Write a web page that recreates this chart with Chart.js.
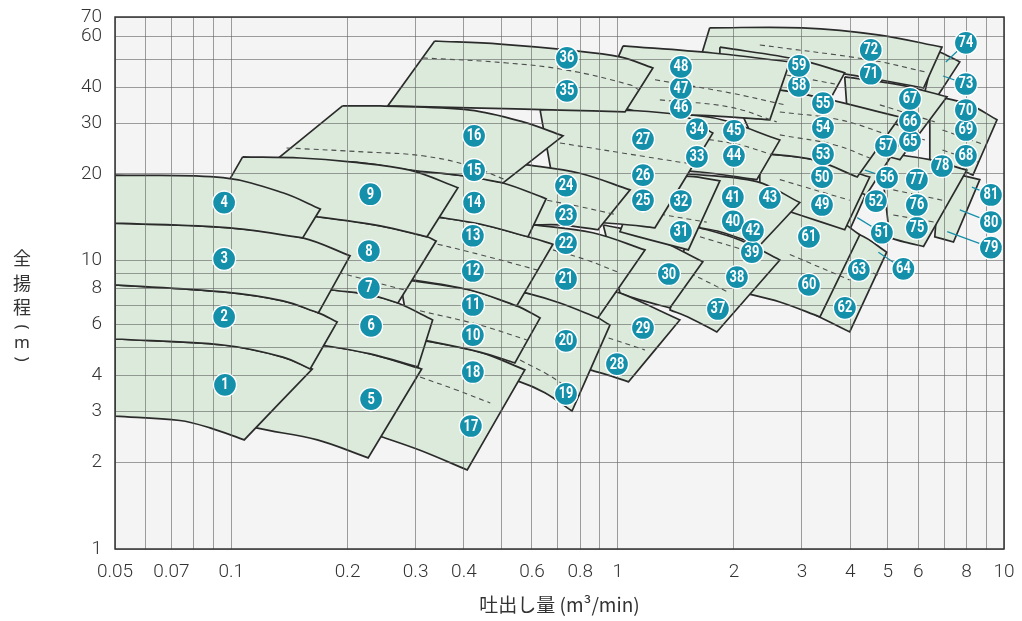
<!DOCTYPE html>
<html><head><meta charset="utf-8">
<script src="https://cdn.jsdelivr.net/npm/chart.js@4"></script>
<style>html,body{margin:0;padding:0;background:#fff}</style>
</head><body>
<canvas id="c" width="1022" height="621" style="width:1022px;height:621px"></canvas>
<script>
// ---- axes ----
const xTickLabels = [0.05,0.07,0.1,0.2,0.3,0.4,0.6,0.8,1,2,3,4,5,6,8,10];
const yTickLabels = [1,2,3,4,6,8,10,20,30,40,60,70];
const xGridValues = [0.05,0.06,0.07,0.08,0.09,0.1,0.2,0.3,0.4,0.5,0.6,0.7,0.8,0.9,1,2,3,4,5,6,7,8,9,10];
const yGridValues = [1,2,3,4,5,6,7,8,9,10,20,30,40,50,60,70];

// ---- pump regions (flow m3/min, head m), top edge L->R then bottom edge R->L ----
const A4 = [[0.05,19.8],[0.0952,19.4],[0.136,17.2],[0.170,15.1],[0.153,12.0],[0.0993,13.0],[0.05,13.5]];
const A3 = [[0.05,13.5],[0.0993,13.0],[0.153,12.0],[0.203,10.4],[0.168,6.59],[0.136,7.25],[0.0952,7.79],[0.05,8.24]];
const A2 = [[0.05,8.24],[0.0952,7.79],[0.136,7.25],[0.168,6.59],[0.188,6.13],[0.160,4.21],[0.136,4.63],[0.0952,5.10],[0.05,5.35]];
const A1 = [[0.05,5.35],[0.0952,5.10],[0.136,4.63],[0.162,4.21],[0.108,2.39],[0.0881,2.63],[0.0736,2.79],[0.05,2.89]];

const B9 = [[0.107,22.9],[0.151,22.7],[0.203,22.0],[0.290,20.6],[0.386,17.9],[0.321,12.1],[0.243,13.2],[0.167,14.2],[0.0908,15.6]];
const B87 = [[0.112,14.8],[0.167,14.2],[0.243,13.2],[0.321,12.1],[0.339,11.7],[0.270,7.13],[0.229,7.61],[0.182,7.91],[0.119,8.57]];
const dashB87 = [[0.170,9.29],[0.191,9.06],[0.268,8.04],[0.2815,7.91]];
const B6 = [[0.126,8.10],[0.182,7.91],[0.229,7.61],[0.270,7.13],[0.332,6.23],[0.304,4.28],[0.229,4.75],[0.177,5.06],[0.126,5.39]];
const B5 = [[0.119,5.31],[0.177,5.06],[0.229,4.75],[0.311,4.21],[0.226,2.07],[0.167,2.39],[0.116,2.63],[0.0993,2.80]];

const C1615 = [[0.194,34.4],[0.243,34.4],[0.415,33.3],[0.569,30.3],[0.722,27.1],[0.505,18.6],[0.398,19.7],[0.290,20.6],[0.203,22.0],[0.126,21.5]];
const dashC16 = [[0.139,24.6],[0.225,23.8],[0.313,23.1],[0.415,21.3],[0.511,19.1]];
const C14 = [[0.290,20.6],[0.398,19.7],[0.505,18.6],[0.653,16.4],[0.586,12.1],[0.440,13.4],[0.327,14.3]];
const C1312 = [[0.327,14.3],[0.440,13.4],[0.586,12.1],[0.680,11.4],[0.548,6.97],[0.415,7.91],[0.295,8.57],[0.273,8.57]];
const dashC13 = [[0.308,11.8],[0.440,10.5],[0.618,9.29]];
const C1110 = [[0.273,8.64],[0.415,7.91],[0.548,6.97],[0.630,6.33],[0.542,4.42],[0.440,4.82],[0.313,5.31],[0.290,5.39]];
const dashC11 = [[0.308,6.70],[0.440,5.98],[0.582,5.31]];
const C1817 = [[0.290,5.39],[0.440,4.82],[0.575,4.18],[0.408,1.88],[0.308,2.20],[0.247,2.44],[0.229,2.51]];
const dashC18 = [[0.308,3.95],[0.383,3.56],[0.468,3.21]];

const D3635 = [[0.336,57.8],[0.496,56.4],[0.739,53.8],[1.014,50.9],[1.234,46.6],[1.045,32.8],[0.709,33.3],[0.415,33.9],[0.254,34.4]];
const dashD36 = [[0.313,50.5],[0.517,48.5],[0.739,45.8],[1.077,40.7],[1.136,39.1]];
const D2423 = [[0.496,22.0],[0.582,21.5],[0.798,20.1],[1.077,17.6],[0.889,12.8],[0.709,13.3],[0.604,13.3],[0.496,13.3]];
const dashD24 = [[0.657,16.2],[0.798,15.4],[0.977,14.5]];
const D2221 = [[0.496,13.6],[0.604,13.3],[0.862,12.5],[1.177,10.9],[0.889,6.33],[0.709,7.13],[0.582,7.72],[0.496,8.04]];
const dashD22 = [[0.680,10.9],[0.832,10.05],[1.014,9.06]];
const D2019 = [[0.496,7.91],[0.582,7.72],[0.739,7.31],[0.955,5.98],[0.762,3.01],[0.648,3.48],[0.559,3.80],[0.468,4.01]];
const dashD20 = [[0.559,4.52],[0.657,4.04],[0.739,3.65]];

const E1 = [[0.630,33.3],[0.709,33.6],[1.449,32.0],[1.763,27.7],[1.249,13.0],[1.014,13.4],[0.709,13.8]];
const dashE1 = [[0.709,25.6],[1.191,22.9],[1.604,21.5]];
const E2 = [[1.033,55.6],[1.763,52.5],[2.790,48.9],[2.477,30.8],[1.763,31.8],[1.142,32.8],[0.899,36.1]];
const dashE2a = [[1.249,42.4],[1.951,38.2],[2.71,34.7]];
const dashE2b = [[1.286,36.1],[1.951,34.1],[2.58,30.3]];
const E3 = [[1.077,32.8],[1.763,31.3],[2.629,26.2],[2.292,19.1],[1.633,20.3],[1.286,20.6]];
const dashE3 = [[1.633,26.6],[2.07,25.2],[2.51,23.3]];
const E4 = [[1.449,20.1],[2.292,18.8],[2.961,15.9],[2.333,11.3],[1.839,12.6],[1.633,13.0]];
const E5 = [[1.142,19.4],[1.538,19.6],[1.839,18.9],[1.524,10.9],[1.213,11.8],[1.014,12.6]];
const dashE5 = [[1.286,14.5],[1.70,13.6]];
const E6 = [[0.918,13.3],[1.191,12.3],[1.661,9.91],[1.366,6.86],[1.142,7.31],[1.014,7.72]];
const E7 = [[0.899,7.98],[1.014,7.72],[1.449,6.23],[1.067,3.80],[0.927,4.04],[0.847,4.18]];
const dashE7 = [[0.899,5.52],[1.177,4.90]];
const E8 = [[1.538,13.3],[2.07,11.8],[2.629,10.05],[1.806,5.66],[1.538,6.33],[1.366,6.75]];
const dashE8a = [[1.633,12.1],[2.333,10.5]];
const dashE8b = [[1.538,9.06],[1.951,7.72]];

const F1 = [[1.839,55.0],[2.961,49.7],[3.87,44.8],[3.54,36.1],[2.84,38.5],[2.333,39.7],[1.839,40.4]];
const dashF1 = [[2.333,45.8],[3.65,41.0]];
const G1 = [[1.731,64.2],[3.0,64.2],[4.771,60.6],[6.91,55.0],[6.19,39.7],[4.492,43.0],[2.961,46.6],[1.633,49.7]];
const dashG1 = [[2.333,56.0],[4.492,49.7],[6.24,45.2]];
const F2 = [[1.951,40.0],[2.84,38.5],[5.375,31.5],[4.17,19.5],[3.21,22.4],[2.333,23.6]];
const dashF2a = [[2.629,32.8],[3.757,30.8],[5.18,26.9]];
const dashF2b = [[2.629,27.3],[3.65,25.2],[4.492,22.7]];
const F3 = [[2.333,23.6],[3.21,22.4],[4.492,19.5],[3.87,12.8],[2.961,14.4],[2.333,16.0]];
const dashF3 = [[2.629,19.1],[3.987,16.2]];
const F4 = [[1.839,16.9],[2.333,16.0],[3.47,14.6],[4.232,12.3],[3.339,6.38],[2.629,7.19],[2.07,7.79]];
const dashF4 = [[2.79,10.5],[3.987,8.57]];
const F5 = [[3.54,12.8],[4.232,12.3],[4.97,10.7],[3.987,5.66],[3.54,6.13],[3.25,6.48]];
const dashF5 = [[3.757,10.05],[4.73,8.91]];
const G2 = [[3.987,31.3],[5.064,30.3],[5.64,28.4],[4.40,16.9],[4.07,17.6]];
const G3 = [[3.757,17.9],[4.44,17.6],[3.987,12.8],[3.757,13.0]];
const H1 = [[3.87,43.4],[5.375,40.7],[7.12,37.0],[5.375,22.4],[4.492,23.8],[3.987,24.6]];
const dashH1a = [[4.771,34.7],[6.62,30.3]];
const dashH1b = [[4.771,29.6],[6.24,26.2]];
const H2 = [[4.771,23.8],[6.427,22.4],[8.01,20.6],[6.19,11.2],[5.54,11.6],[5.064,12.0]];
const dashH2a = [[5.17,17.6],[6.93,16.2]];
const dashH2b = [[5.17,14.4],[6.62,13.6]];
const I1 = [[6.62,53.8],[6.91,52.5],[7.685,48.9],[6.71,37.0],[6.24,38.5]];
const I2 = [[6.427,37.6],[8.157,34.7],[9.59,30.8],[8.31,19.8],[7.241,21.5],[6.427,22.4]];
const dashI2a = [[6.93,28.4],[8.92,25.2]];
const dashI2b = [[6.93,24.2],[8.55,22.0]];
const I3 = [[6.822,20.6],[8.658,19.1],[7.40,11.6],[6.62,12.1]];

// ---- pump number markers ----
const pumpNo = [1,2,3,4,5,6,7,8,9,10,11,12,13,14,15,16,17,18,19,20,21,22,23,24,25,26,27,28,29,30,31,32,33,34,35,36,37,38,39,40,41,42,43,44,45,46,47,48,49,50,51,52,53,54,55,56,57,58,59,60,61,62,63,64,65,66,67,68,69,70,71,72,73,74,75,76,77,78,79,80,81];
const pumpQ = [0.0963,0.0958,0.0958,0.0958,0.230,0.230,0.227,0.227,0.229,0.422,
  0.422,0.422,0.422,0.425,0.425,0.425,0.417,0.422,0.735,0.735,
  0.735,0.735,0.735,0.735,1.163,1.163,1.163,0.996,1.163,1.357,
  1.458,1.458,1.604,1.604,0.739,0.739,1.818,2.036,2.226,1.987,
  1.987,2.239,2.477,2.0,2.0,1.458,1.458,1.458,3.38,3.38,
  4.83,4.66,3.40,3.40,3.40,4.98,4.95,2.946,2.946,3.127,
  3.127,3.875,4.21,5.49,5.71,5.71,5.71,7.97,7.97,7.97,
  4.52,4.52,7.97,7.97,5.95,5.95,5.95,6.91,9.25,9.25,9.25];
const pumpH = [3.71,6.38,10.14,15.9,3.31,5.94,8.04,10.8,17.0,5.52,
  7.02,9.21,12.2,15.9,20.6,27.1,2.67,4.11,3.45,5.27,
  8.64,11.5,14.4,18.2,16.2,19.8,26.4,4.38,5.84,8.99,
  12.6,16.1,22.9,28.6,38.8,50.5,6.80,8.77,10.7,13.7,
  16.6,12.7,16.5,23.1,28.2,33.9,39.7,47.0,15.6,19.5,
  12.5,16.1,23.4,28.9,35.2,19.4,25.0,40.4,47.4,8.24,
  12.1,6.86,9.29,9.36,26.0,30.5,36.4,23.1,28.4,33.3,
  44.5,53.8,41.0,56.9,13.0,15.6,19.1,21.3,11.1,13.6,16.9];
const leaderFrom = [[7.97,56.9],[7.97,41.0],[4.98,19.4],[4.83,12.5],[5.49,9.36],[9.25,16.9],[9.25,13.6],[9.25,11.1]];
const leaderTo = [[7.07,48.9],[6.95,43.7],[4.365,20.6],[4.17,14.1],[4.73,10.7],[8.26,18.0],[7.685,15.0],[7.13,12.6]];

// ---- styles ----
const FILL = '#dbeadb', EDGE = '#2b2b2b', DASH = '#4d4d4d', TEAL = '#1590aa';

// closed outline: corners (first, right-most, the one after it, last) are doubled so the
// spline keeps them sharp while the head curves stay smooth
function poly(pts) {
  let k = 0;
  pts.forEach((p, i) => { if (p[0] > pts[k][0]) k = i; });
  const path = [];
  pts.forEach((p, i) => {
    path.push({x: p[0], y: p[1]});
    if (i === 0 || i === k || i === k + 1 || i === pts.length - 1) path.push({x: p[0], y: p[1]});
  });
  path.push({x: pts[0][0], y: pts[0][1]});
  path.push({x: pts[0][0], y: pts[0][1]});
  return {data: path, showLine: true, fill: 'shape', backgroundColor: FILL, borderColor: EDGE,
    borderWidth: 1.7, pointRadius: 0, pointHoverRadius: 0, tension: 0.35, borderJoinStyle: 'miter'};
}
function dash(pts) {
  return {data: pts.map(p => ({x: p[0], y: p[1]})), showLine: true, fill: false, borderColor: DASH,
    borderWidth: 1.1, borderDash: [5, 4], pointRadius: 0, pointHoverRadius: 0, tension: 0.4};
}

// drawing order bottom -> top (left groups overlap right groups)
const layers = [
  [I3], [I2, dashI2a, dashI2b], [I1], [H2, dashH2a, dashH2b], [H1, dashH1a, dashH1b],
  [G1, dashG1], [G3], [G2], [F5, dashF5], [F4, dashF4], [F3, dashF3], [F2, dashF2a, dashF2b], [F1, dashF1],
  [E8, dashE8a, dashE8b], [E4], [E3, dashE3], [E2, dashE2a, dashE2b], [E6], [E7, dashE7], [E5, dashE5], [E1, dashE1],
  [D2019, dashD20], [D2221, dashD22], [D2423, dashD24], [D3635, dashD36],
  [C1817, dashC18], [C1110, dashC11], [C1312, dashC13], [C14], [C1615, dashC16],
  [B5], [B6], [B87, dashB87], [B9],
  [A1], [A2], [A3], [A4]
];
const bottomToTop = [];
layers.forEach(g => { bottomToTop.push(poly(g[0])); g.slice(1).forEach(d => bottomToTop.push(dash(d))); });

const labelDs = {
  data: pumpQ.map((q, i) => ({x: q, y: pumpH[i]})),
  pointRadius: 11.5, pointHoverRadius: 11.5, pointBackgroundColor: TEAL,
  pointBorderColor: '#ffffff', pointBorderWidth: 1.3, showLine: false
};
const leaderDs = leaderFrom.map((f, i) => ({
  data: [{x: f[0], y: f[1]}, {x: leaderTo[i][0], y: leaderTo[i][1]}],
  showLine: true, fill: false, borderColor: TEAL, borderWidth: 1.3, pointRadius: 0, pointHoverRadius: 0
}));

const datasets = [labelDs, ...leaderDs, ...bottomToTop.slice().reverse()];

const TICKFONT = {family: "Roboto, 'Noto Sans', sans-serif", size: 19, weight: '300'};

const decor = {
  id: 'decor',
  beforeDraw(chart) {
    const {ctx, chartArea: a} = chart;
    ctx.save();
    ctx.fillStyle = '#f4f4f4';
    ctx.fillRect(a.left, a.top, a.right - a.left, a.bottom - a.top);
    ctx.restore();
  },
  afterDraw(chart) {
    const {ctx, chartArea: a} = chart;
    ctx.save();
    ctx.strokeStyle = '#333';
    ctx.lineWidth = 1.5;
    ctx.strokeRect(a.left, a.top, a.right - a.left, a.bottom - a.top);
    // pump number circles above the grid
    const meta = chart.getDatasetMeta(0);
    meta.data.forEach((el, i) => {
      el.draw(ctx, {left: 0, top: 0, right: chart.width, bottom: chart.height});
      ctx.save();
      ctx.translate(el.x, el.y + 0.5);
      ctx.scale(0.8, 1);
      ctx.fillStyle = '#ffffff';
      ctx.font = "bold 16px Roboto, 'Noto Sans', sans-serif";
      ctx.textAlign = 'center';
      ctx.textBaseline = 'middle';
      ctx.fillText(String(pumpNo[i]), 0, 0);
      ctx.restore();
    });
    // vertical y-axis title
    ctx.fillStyle = '#333';
    ctx.textAlign = 'center';
    ctx.textBaseline = 'middle';
    ctx.font = "18px 'Noto Sans CJK JP', sans-serif";
    [['全', 258], ['揚', 283], ['程', 307]].forEach(c => ctx.fillText(c[0], 22, c[1]));
    ctx.font = "17px 'Noto Sans', sans-serif";
    ctx.fillText('m', 22, 343);
    [['(', 327], [')', 359]].forEach(c => {
      ctx.save();
      ctx.translate(22, c[1]);
      ctx.rotate(Math.PI / 2);
      ctx.fillText(c[0], 0, 0);
      ctx.restore();
    });
    ctx.restore();
  }
};

new Chart(document.getElementById('c'), {
  type: 'scatter',
  data: {datasets},
  options: {
    responsive: false,
    animation: false,
    events: [],
    layout: {padding: {left: 0, right: 18, top: 17, bottom: 0}},
    plugins: {legend: {display: false}, tooltip: {enabled: false}},
    scales: {
      x: {
        type: 'logarithmic', min: 0.05, max: 10,
        afterBuildTicks: s => { s.ticks = xGridValues.map(v => ({value: v})); },
        afterFit: s => { s.height = 72; s.paddingLeft = 0; s.paddingRight = 0; },
        grid: {color: 'rgba(95,95,95,0.6)', lineWidth: 1, drawTicks: false, z: 1},
        border: {display: false},
        ticks: {autoSkip: false, maxRotation: 0, minRotation: 0, padding: 12, color: '#333', font: TICKFONT,
          callback: v => xTickLabels.includes(v) ? String(v) : ''},
        title: {display: true, text: '吐出し量 (m³/min)', color: '#333',
          font: {family: "'Noto Sans CJK JP', sans-serif", size: 19}, padding: {top: 0, bottom: 5}}
      },
      y: {
        type: 'logarithmic', min: 1, max: 70,
        afterBuildTicks: s => { s.ticks = yGridValues.map(v => ({value: v})); },
        afterFit: s => { s.width = 115; s.paddingTop = 0; s.paddingBottom = 0; },
        grid: {color: 'rgba(95,95,95,0.6)', lineWidth: 1, drawTicks: false, z: 1},
        border: {display: false},
        ticks: {autoSkip: false, padding: 13, color: '#333', font: TICKFONT,
          callback: v => yTickLabels.includes(v) ? String(v) : ''}
      }
    }
  },
  plugins: [decor]
});
</script>
</body></html>
